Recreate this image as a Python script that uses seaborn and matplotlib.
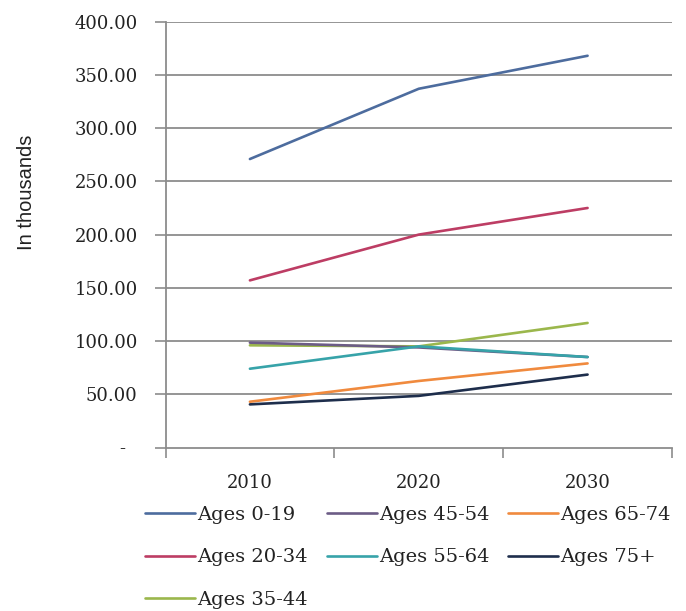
import matplotlib
matplotlib.use("Agg")
import matplotlib.pyplot as plt
from matplotlib.ticker import FixedLocator
import seaborn as sns
import pandas as pd

# Projected population by age group (in thousands)
years = ["2010", "2020", "2030"]
groups = ["Ages 0-19", "Ages 20-34", "Ages 35-44", "Ages 45-54",
          "Ages 55-64", "Ages 65-74", "Ages 75+"]
ages_0_19 = [271.0, 337.0, 368.0]
ages_20_34 = [157.0, 200.0, 225.0]
ages_35_44 = [96.0, 95.0, 117.0]
ages_45_54 = [98.5, 94.0, 85.0]
ages_55_64 = [74.0, 95.0, 85.0]
ages_65_74 = [43.0, 62.5, 79.0]
ages_75_plus = [40.5, 48.5, 68.5]
colors = ["#4d6c9e", "#bd3d64", "#9bb74c", "#6c5c86",
          "#37a3a9", "#f08a3e", "#1e2e4c"]
y_ticks = [0, 50, 100, 150, 200, 250, 300, 350, 400]

series = [ages_0_19, ages_20_34, ages_35_44, ages_45_54,
          ages_55_64, ages_65_74, ages_75_plus]
rows = []
for name, vals in zip(groups, series):
    for i, (yr, v) in enumerate(zip(years, vals)):
        rows.append({"pos": i, "year": yr, "group": name, "value": v})
df = pd.DataFrame(rows)

sns.set_theme(style="white")
plt.rcParams["font.family"] = ["DejaVu Serif"]

fig = plt.figure(figsize=(6.86, 6.11), dpi=100)
ax = fig.add_axes([165.5 / 686, 1 - 447.5 / 611, (672 - 165.5) / 686,
                   (447.5 - 21.7) / 611])

grid_c = "#8c8c8c"
for t in y_ticks[1:]:
    ax.axhline(t, color=grid_c, lw=1.3, zorder=0)

sns.lineplot(data=df, x="pos", y="value", hue="group", hue_order=groups,
             palette=colors, linewidth=1.9, ax=ax, legend=True,
             estimator=None, sort=True)

ax.set_xlim(-0.5, 2.5)
ax.set_ylim(0, 400)
ax.set_xticks(range(len(years)))
ax.set_xticklabels(years, fontsize=13, color="#222222")
ax.xaxis.set_minor_locator(FixedLocator([-0.5, 0.5, 1.5, 2.5]))
ax.tick_params(axis="x", which="major", length=0, pad=19)
ax.tick_params(axis="x", which="minor", length=7, width=1.2, color=grid_c,
               direction="out", bottom=True)
ax.set_yticks(y_ticks)
ax.set_yticklabels(["-  "] + [f"{t:.2f}" for t in y_ticks[1:]],
                   fontsize=13, color="#222222")
ax.tick_params(axis="y", length=8, width=1.2, color=grid_c, pad=12,
               direction="out", left=True)

for side in ["top", "right"]:
    ax.spines[side].set_visible(False)
for side in ["left", "bottom"]:
    ax.spines[side].set_color(grid_c)
    ax.spines[side].set_linewidth(1.3)
ax.set_xlabel("")
ax.set_ylabel("")

fig.text(27 / 686, 1 - 192 / 611, "In thousands", rotation=90,
         ha="center", va="center", fontsize=14.5,
         family=["Liberation Sans"], color="#222222")

handles, labels = ax.get_legend_handles_labels()
ax.get_legend().remove()
leg = fig.legend(handles, labels, ncol=3, loc="upper left",
                 bbox_to_anchor=(145 / 686, 1 - 506 / 611),
                 frameon=False, fontsize=14, handlelength=2.58,
                 handletextpad=0.12, columnspacing=0.95, labelspacing=1.26,
                 borderpad=0, borderaxespad=0)
for line in leg.get_lines():
    line.set_linewidth(1.9)
for txt in leg.get_texts():
    txt.set_color("#222222")

fig.savefig("out.png", dpi=100, facecolor="white")
